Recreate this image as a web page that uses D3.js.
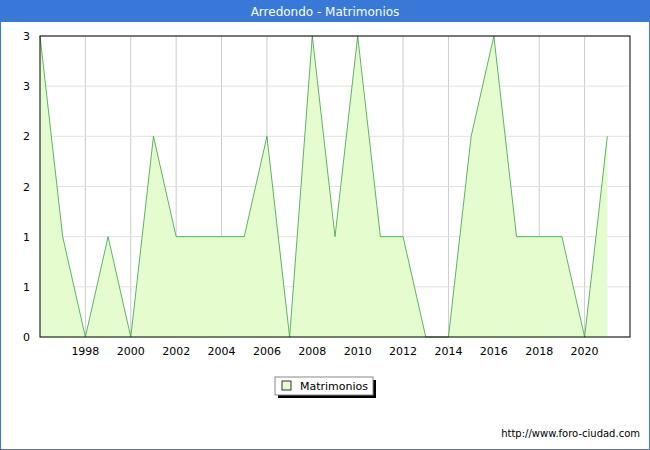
<!DOCTYPE html><html><head><meta charset="utf-8"><script src="https://cdn.jsdelivr.net/npm/d3@7"></script>
<style>body{margin:0}</style></head><body><svg id="c" width="650" height="450"></svg><script>
const years=[1996,1997,1998,1999,2000,2001,2002,2003,2004,2005,2006,2007,2008,2009,2010,2011,2012,2013,2014,2015,2016,2017,2018,2019,2020,2021];
const values=[3,1,0,1,0,2,1,1,1,1,2,0,3,1,3,1,1,0,0,2,3,1,1,1,0,2];
const xTicks=[1998,2000,2002,2004,2006,2008,2010,2012,2014,2016,2018,2020];
const yTicks=[0,0.5,1,1.5,2,2.5,3];
const yLabels=["0","1","1","2","2","3","3"];
const svg=d3.select("#c");
svg.append("rect").attr("x",0.5).attr("y",0.5).attr("width",649).attr("height",449).attr("fill","#fff").attr("stroke","#3a78d8");
svg.append("rect").attr("x",0).attr("y",0).attr("width",650).attr("height",22).attr("fill","#3a78d8");
svg.append("text").attr("x",325).attr("y",16).attr("text-anchor","middle").attr("fill","#fff").attr("font-family","DejaVu Sans").attr("font-size",12).text("Arredondo - Matrimonios");
const x=d3.scaleLinear().domain([1996,2022]).range([40,630]);
const y=d3.scaleLinear().domain([0,3]).range([337,36]);
const g=svg.append("g").attr("font-family","DejaVu Sans").attr("font-size",11);
xTicks.forEach(t=>g.append("line").attr("x1",x(t)).attr("x2",x(t)).attr("y1",36).attr("y2",337).attr("stroke","#ccc"));
yTicks.forEach(t=>g.append("line").attr("x1",40).attr("x2",630).attr("y1",y(t)).attr("y2",y(t)).attr("stroke","#e2e2e2"));
const area=d3.area().x((d,i)=>x(years[i])).y0(y(0)).y1(d=>y(d));
g.append("path").datum(values).attr("d",area).attr("fill","#e5fccf").attr("stroke","none");
g.append("path").datum(values).attr("d",d3.line().x((d,i)=>x(years[i])).y(d=>y(d))).attr("fill","none").attr("stroke","#3aa040").attr("stroke-width",0.8);
g.append("rect").attr("x",40).attr("y",36).attr("width",590).attr("height",301).attr("fill","none").attr("stroke","#000");
xTicks.forEach(t=>g.append("text").attr("x",x(t)).attr("y",355).attr("text-anchor","middle").text(t));
yTicks.forEach((t,i)=>g.append("text").attr("x",30).attr("y",y(t)+4).attr("text-anchor","end").text(yLabels[i]));
svg.append("rect").attr("x",278).attr("y",380).attr("width",98).attr("height",18).attr("fill","#000");
svg.append("rect").attr("x",275).attr("y",377).attr("width",98).attr("height",18).attr("fill","#fff").attr("stroke","#888");
svg.append("rect").attr("x",282).attr("y",381).attr("width",9).attr("height",9).attr("fill","#e5fccf").attr("stroke","#333");
svg.append("text").attr("x",300).attr("y",390).attr("font-family","DejaVu Sans").attr("font-size",11).text("Matrimonios");
svg.append("text").attr("x",640).attr("y",437).attr("text-anchor","end").attr("font-family","DejaVu Sans").attr("font-size",10).text("http://www.foro-ciudad.com");
</script></body></html>
